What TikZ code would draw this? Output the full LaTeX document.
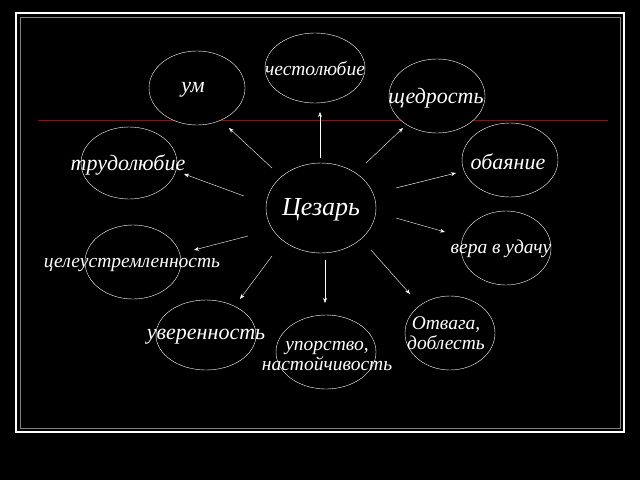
\documentclass[tikz,border=0pt]{standalone}
\usepackage{fontspec}
\setmainfont{Liberation Serif}
\usetikzlibrary{arrows.meta}
\tikzset{
  oval/.style={draw=white, fill=black, ellipse, thin},
  lbl/.style={text=white, font=\itshape\fontsize{19.5}{20}\selectfont, align=center, inner sep=0pt},
  big/.style={font=\itshape\fontsize{22}{24}\selectfont},
  arr/.style={draw=white, -{Stealth[length=5pt]}, thin}
}
\usetikzlibrary{shapes.geometric}
\begin{document}
\begin{tikzpicture}[x=1pt,y=-1pt]
    \fill[black] (0,0) rectangle (640,480);
    % frame
    \draw[white, line width=2.5pt] (16,13) rectangle (624,432);
    \draw[gray, line width=0.6pt] (20,17) rectangle (620,428);
    \draw[red!70!black, line width=0.8pt] (38,120) -- (608,120);

    % ovals
    \node[oval, minimum width=110, minimum height=90] (caesar) at (321,208) {};
    \node[oval, minimum width=100, minimum height=70] (chest) at (315,68) {};
    \node[oval, minimum width=96, minimum height=74] (um) at (197,88) {};
    \node[oval, minimum width=96, minimum height=74] (shch) at (437,96) {};
    \node[oval, minimum width=96, minimum height=74] (obaya) at (510,160) {};
    \node[oval, minimum width=96, minimum height=72] (trud) at (129,163) {};
    \node[oval, minimum width=90, minimum height=74] (vera) at (506,248) {};
    \node[oval, minimum width=96, minimum height=74] (tsel) at (133,262) {};
    \node[oval, minimum width=90, minimum height=74] (otvaga) at (450,333) {};
    \node[oval, minimum width=100, minimum height=70] (uver) at (206,335) {};
    \node[oval, minimum width=100, minimum height=74] (upor) at (326,352) {};

    % labels
    \node[lbl, font=\itshape\fontsize{26}{28}\selectfont] (tcaesar) at (321,210) {Цезарь};
    \node[lbl] (tchest) at (315,69) {честолюбие};
    \node[lbl, big] (tum) at (193,90) {ум};
    \node[lbl, big] (tshch) at (436,98) {щедрость};
    \node[lbl, big] (tobaya) at (508,162) {обаяние};
    \node[lbl, big] (ttrud) at (128,165) {трудолюбие};
    \node[lbl] (tvera) at (501,249) {вера в удачу};
    \node[lbl] (ttsel) at (132,265) {целеустремленность};
    \node[lbl] (totvaga) at (446,333) {Отвага,\\доблесть};
    \node[lbl, big] (tuver) at (206,337) {уверенность};
    \node[lbl] (tupor) at (327,356) {упорство,\\настойчивость};

    % arrow ends
    \coordinate (a1) at (272,168); \coordinate (b1) at (229,128);
    \coordinate (a2) at (320,158); \coordinate (b2) at (320,112);
    \coordinate (a3) at (366,163); \coordinate (b3) at (403,128);
    \coordinate (a4) at (396,188); \coordinate (b4) at (456,173);
    \coordinate (a5) at (244,196); \coordinate (b5) at (184,174);
    \coordinate (a6) at (396,218); \coordinate (b6) at (445,232);
    \coordinate (a7) at (248,236); \coordinate (b7) at (194,250);
    \coordinate (a8) at (371,250); \coordinate (b8) at (410,294);
    \coordinate (a9) at (272,256); \coordinate (b9) at (240,299);
    \coordinate (a10) at (325,260); \coordinate (b10) at (325,303);
    \foreach \i in {1,...,10}
        \draw[arr] (a\i) -- (b\i);
\end{tikzpicture}
\end{document}
